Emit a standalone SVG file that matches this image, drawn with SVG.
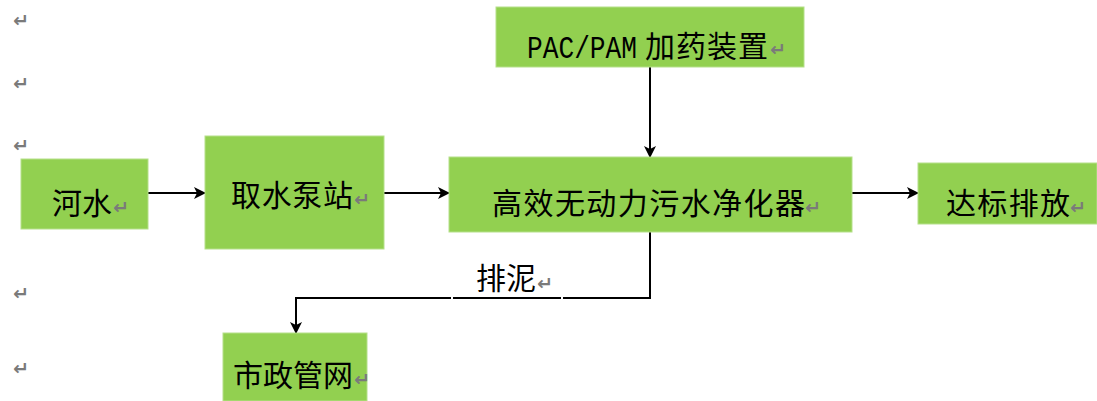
<svg xmlns="http://www.w3.org/2000/svg" width="1097" height="401" viewBox="0 0 1097 401">
<defs>
<marker id="ah" markerWidth="12" markerHeight="12" viewBox="0 0 12 12" refX="11" refY="6" orient="auto" markerUnits="userSpaceOnUse">
<path d="M0,0 L12,6 L0,12 L3,6 Z" fill="#000"/>
</marker>
<style>
.box{fill:#92d050;stroke:#b5e08a;stroke-width:1}
.t{font-family:"Noto Sans CJK SC","Noto Sans",sans-serif;font-size:30px;fill:#000}
.m{font-family:"DejaVu Sans",sans-serif;font-size:19px;font-weight:bold;fill:#7a7a7a}
.c{fill:none;stroke:#000;stroke-width:2}
</style>
</defs>
<rect width="1097" height="401" fill="#fff"/>
<g id="marks">
<text class="m" x="13" y="27">↵</text>
<text class="m" x="13" y="90">↵</text>
<text class="m" x="13" y="152">↵</text>
<text class="m" x="13" y="300">↵</text>
<text class="m" x="13" y="375">↵</text>
</g>
<g id="connectors">
<line class="c" x1="650" y1="67" x2="650" y2="157" marker-end="url(#ah)"/>
<line class="c" x1="148" y1="193" x2="205" y2="193" marker-end="url(#ah)"/>
<line class="c" x1="384" y1="193" x2="449" y2="193" marker-end="url(#ah)"/>
<line class="c" x1="852" y1="193" x2="918" y2="193" marker-end="url(#ah)"/>
<polyline class="c" points="650,232 650,298 563,298"/>
<line class="c" x1="561" y1="298" x2="453" y2="298"/>
<polyline class="c" points="451,298 296,298 296,333" marker-end="url(#ah)"/>
<text class="t" x="476" y="289">排泥</text>
<text class="m" x="537" y="290">↵</text>
</g>
<g id="pac">
<rect class="box" x="496" y="7" width="308" height="60"/>
<text x="527" y="58" font-family="Liberation Mono,monospace" font-size="31" textLength="110" lengthAdjust="spacingAndGlyphs">PAC/PAM</text>
<text class="t" x="645" y="57" textLength="123">加药装置</text>
<text class="m" x="770" y="56">↵</text>
</g>
<g id="river">
<rect class="box" x="21" y="159" width="127" height="70"/>
<text class="t" x="52" y="214">河水</text>
<text class="m" x="113" y="214">↵</text>
</g>
<g id="pump">
<rect class="box" x="205" y="136" width="179" height="113"/>
<text class="t" x="231" y="206" textLength="122">取水泵站</text>
<text class="m" x="354" y="206">↵</text>
</g>
<g id="purifier">
<rect class="box" x="449" y="157" width="403" height="75"/>
<text class="t" x="492" y="214" textLength="313">高效无动力污水净化器</text>
<text class="m" x="805" y="214">↵</text>
</g>
<g id="discharge">
<rect class="box" x="918" y="163" width="179" height="61"/>
<text class="t" x="946" y="214" textLength="124">达标排放</text>
<text class="m" x="1070" y="214">↵</text>
</g>
<g id="sewer">
<rect class="box" x="223" y="333" width="144" height="68"/>
<text class="t" x="233" y="386" textLength="120">市政管网</text>
<text class="m" x="354" y="386">↵</text>
</g>
</svg>
